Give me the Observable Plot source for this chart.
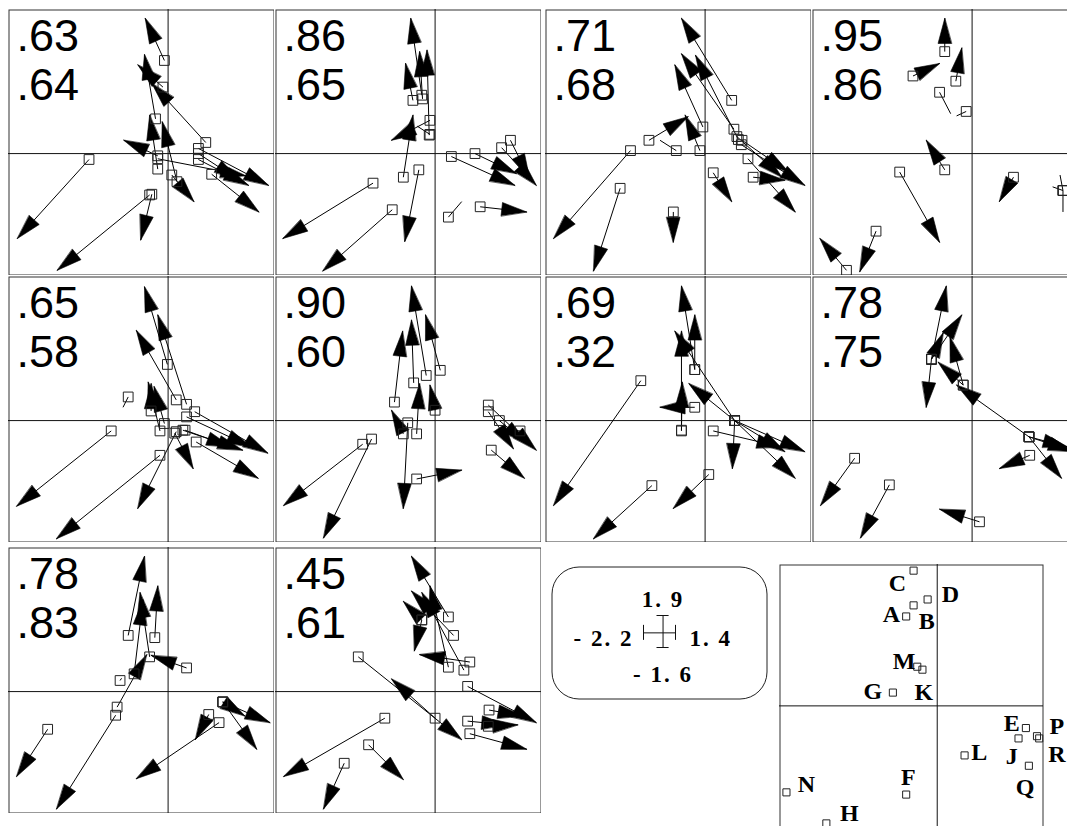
<!DOCTYPE html>
<html><head><meta charset="utf-8">
<script src="https://cdn.jsdelivr.net/npm/d3@7"></script>
<script src="https://cdn.jsdelivr.net/npm/@observablehq/plot@0.6"></script>
<style>
html,body{margin:0;padding:0;background:#fff;}
#wrap{position:relative;width:1067px;height:826px;overflow:hidden;background:#fff;}
.pn{position:absolute;}
.pn svg{display:block;max-width:none;}
</style></head><body><div id="wrap"></div>
<script>
// ---- panel statistics (two per panel) ----
const stat1 = [".63", ".86", ".71", ".95", ".65", ".90", ".69", ".78", ".78", ".45"];
const stat2 = [".64", ".65", ".68", ".86", ".58", ".60", ".32", ".75", ".83", ".61"];

// ---- arrows: start (square) x0,y0 -> end x1,y1, per panel ----
const p1x0 = [-1.07,-0.25,-0.22,-0.05,-0.07,-0.17,0.51,-0.14,-0.14,0.05,0.12,0.41,0.41,0.59,-0.14,0.41];
const p1y0 = [-0.08,-0.56,-0.55,1.26,0.90,0.47,0.15,-0.03,-0.21,-0.29,-0.38,0.07,-0.08,-0.28,-0.07,0.00];
const p1x1 = [-2.04,-1.50,-0.37,-0.31,-0.41,-0.32,-0.22,-0.60,-0.25,0.35,-0.08,1.36,1.09,1.23,1.05,0.96];
const p1y1 = [-1.15,-1.58,-1.17,1.83,1.20,1.34,0.95,0.18,0.52,-0.65,0.43,-0.43,-0.43,-0.79,-0.30,-0.36];

const p2x0 = [-0.84,-0.58,-0.22,-0.43,-0.07,-0.07,-0.18,-0.30,-0.17,-0.08,0.22,0.54,0.90,1.02,0.18,0.61];
const p2y0 = [-0.40,-0.76,-0.22,-0.32,0.45,0.26,0.79,0.72,0.74,0.25,-0.04,0.00,0.08,0.18,-0.86,-0.72];
const p2x1 = [-2.06,-1.52,-0.41,-0.30,-0.59,-0.24,-0.33,-0.40,-0.21,-0.11,1.08,1.10,1.37,1.28,0.36,1.24];
const p2y1 = [-1.15,-1.59,-1.19,0.52,0.18,0.37,1.83,1.22,1.38,1.40,-0.43,-0.27,-0.43,-0.34,-0.65,-0.79];

const p3x0 = [-1.01,-1.15,-0.43,-0.76,-0.39,-0.07,-0.03,0.36,0.39,0.45,0.49,0.58,0.65,0.11,0.50,0.43];
const p3y0 = [0.04,-0.47,-0.79,0.18,0.04,0.04,0.36,0.72,0.33,0.19,0.12,-0.07,-0.32,-0.26,0.18,0.23];
const p3x1 = [-2.05,-1.51,-0.43,-0.23,-0.61,-0.27,-0.41,-0.32,-0.32,-0.13,1.35,1.22,1.08,0.36,1.13,1.04];
const p3y1 = [-1.15,-1.59,-1.20,0.50,0.18,0.52,1.20,1.83,1.35,1.33,-0.43,-0.79,-0.36,-0.65,-0.25,-0.32];

const p4x0 = [-0.37,-0.80,-0.22,-0.44,-0.08,-0.37,-0.98,-1.30,-1.70,0.56,1.23,1.23,1.23];
const p4y0 = [1.38,1.05,0.98,0.83,0.57,-0.22,-0.25,-1.05,-1.58,-0.32,-0.50,-0.50,-0.50];
const p4x1 = [-0.37,-0.44,-0.14,-0.29,-0.21,-0.62,-0.44,-1.52,-2.06,0.37,1.19,1.09,1.23];
const p4y1 = [1.83,1.22,1.43,0.54,0.51,0.18,-1.20,-1.60,-1.15,-0.65,-0.29,-0.45,-0.79];

const p5x0 = [-0.77,-0.11,0.11,-0.54,-0.01,0.11,0.25,-0.11,-0.05,0.36,0.25,0.20,0.38,0.09,0.23,-0.23];
const p5y0 = [-0.14,-0.47,-0.15,0.32,0.76,0.28,0.22,-0.14,-0.04,0.12,0.05,-0.13,-0.29,-0.17,-0.13,0.13];
const p5x1 = [-2.05,-1.51,-0.41,-0.61,-0.32,-0.43,-0.14,-0.27,-0.19,1.35,1.13,1.01,1.22,0.34,0.86,-0.23];
const p5y1 = [-1.16,-1.60,-1.19,0.18,1.81,1.22,1.43,0.52,0.46,-0.44,-0.36,-0.40,-0.78,-0.65,-0.36,0.50];

const p6x0 = [-0.98,-0.86,-0.37,-0.25,-0.55,-0.29,-0.12,0.07,-0.25,-0.43,0.00,0.72,0.72,0.87,1.15,0.76];
const p6y0 = [-0.32,-0.25,-0.03,-0.79,0.25,0.51,0.61,0.68,-0.18,-0.18,0.14,0.21,0.12,0.00,-0.14,-0.40];
const p6x1 = [-2.05,-1.51,-0.43,0.36,-0.44,-0.32,-0.32,-0.13,-0.21,-0.59,-0.07,1.37,1.06,1.24,0.97,1.21];
const p6y1 = [-1.15,-1.59,-1.19,-0.67,1.21,1.36,1.82,1.43,0.50,0.14,0.48,-0.40,-0.38,-0.31,-0.13,-0.78];

const p7x0 = [-0.87,-0.72,0.05,-0.14,-0.32,-0.32,-0.14,-0.14,0.40,0.40,0.40,0.40,0.40,0.40,0.11];
const p7y0 = [0.54,-0.88,-0.73,0.18,-0.14,-0.13,0.69,0.69,0.00,0.00,0.00,0.00,0.00,0.00,-0.14];
const p7x1 = [-2.05,-1.51,-0.43,-0.61,-0.32,-0.31,-0.32,-0.14,-0.41,-0.22,1.35,1.08,1.22,0.37,1.04];
const p7y1 = [-1.15,-1.60,-1.19,0.18,1.21,0.52,1.82,1.43,1.21,0.50,-0.42,-0.42,-0.78,-0.65,-0.36];

const p8x0 = [-1.59,-1.12,0.10,0.78,0.77,0.77,0.77,-0.55,-0.55,-0.55,-0.55,-0.12,0.77,-0.12];
const p8y0 = [-0.51,-0.87,-1.37,-0.47,-0.22,-0.22,-0.22,0.83,0.83,0.83,0.83,0.48,-0.22,0.48];
const p8x1 = [-2.05,-1.51,-0.44,0.37,1.30,1.21,1.37,-0.62,-0.35,-0.14,-0.39,-0.46,-0.21,-0.30];
const p8y1 = [-1.15,-1.59,-1.20,-0.65,-0.36,-0.78,-0.42,0.18,1.82,1.43,1.19,0.79,0.48,1.13];

const p9x0 = [-1.63,-0.71,-0.69,-0.54,-0.18,-0.25,-0.46,-0.65,0.25,0.74,0.74,0.74,0.69,0.55];
const p9y0 = [-0.51,-0.32,-0.21,0.76,0.73,0.47,0.24,0.15,0.32,-0.14,-0.14,-0.14,-0.42,-0.31];
const p9x1 = [-2.05,-1.51,-0.29,-0.32,-0.14,-0.38,-0.34,-0.63,-0.23,1.38,1.20,1.04,-0.43,0.37];
const p9y1 = [-1.15,-1.59,0.50,1.83,1.43,1.34,1.24,0.18,0.49,-0.42,-0.78,-0.33,-1.18,-0.65];

const p10x0 = [-0.68,-1.23,-0.90,-1.04,0.00,-0.18,-0.18,0.18,0.25,0.47,0.18,0.39,0.44,0.73,0.44,0.72,0.47];
const p10y0 = [-0.36,-0.97,-0.72,0.47,-0.36,0.97,0.97,1.01,0.76,0.40,0.33,0.29,0.07,-0.25,-0.40,-0.47,-0.57];
const p10x1 = [-2.05,-1.51,-0.43,0.36,-0.59,-0.43,-0.28,-0.32,-0.32,-0.21,-0.07,-0.18,1.37,1.19,0.97,1.12,1.24];
const p10y1 = [-1.15,-1.59,-1.19,-0.65,0.17,1.22,0.55,1.83,1.36,0.50,1.43,1.34,-0.42,-0.33,-0.45,-0.45,-0.78];

// ---- reference typology (bottom-right panel) ----
const refLabels = ["A","B","C","D","E","F","G","H","J","K","L","M","N","P","Q","R"];
const refX  = [-0.42,-0.32,-0.32,-0.13,1.20,-0.42,-0.60,-1.50,1.10,-0.20,0.37,-0.27,-2.04,1.35,1.24,1.38];
const refY  = [1.21,1.36,1.83,1.44,-0.30,-1.20,0.18,-1.59,-0.44,0.49,-0.67,0.53,-1.17,-0.41,-0.81,-0.44];
const refLX = [-0.62,-0.14,-0.54,0.18,1.01,-0.39,-0.87,-1.19,1.01,-0.18,0.57,-0.45,-1.77,1.62,1.19,1.62];
const refLY = [1.24,1.14,1.66,1.51,-0.24,-0.97,0.20,-1.45,-0.68,0.18,-0.63,0.60,-1.06,-0.27,-1.10,-0.66];

// ---- scale legend ----
const xlim = [-2.2, 1.4];
const ylim = [-1.6, 1.9];
const limLabels = ["1. 9", "- 2. 2", "1. 4", "- 1. 6"]; // top, left, right, bottom

// ---------------------------------------------------------------
const panels = [
  [p1x0,p1y0,p1x1,p1y1],[p2x0,p2y0,p2x1,p2y1],[p3x0,p3y0,p3x1,p3y1],[p4x0,p4y0,p4x1,p4y1],
  [p5x0,p5y0,p5x1,p5y1],[p6x0,p6y0,p6x1,p6y1],[p7x0,p7y0,p7x1,p7y1],[p8x0,p8y0,p8x1,p8y1],
  [p9x0,p9y0,p9x1,p9y1],[p10x0,p10y0,p10x1,p10y1]
];
const panelLeft = [8,275,545,812,8,275,545,812,8,275];
const panelTop  = [9,9,9,9,276,276,276,276,547,547];
const SIZE = 266;
const XD = [-2.16, 1.44], YD = [-1.65, 1.95];
const K = SIZE / (XD[1] - XD[0]); // px per unit (equal aspect)
const HEAD_PX = 26, MIN_PX = 25, HALF = 15 * Math.PI / 180;

const wrap = document.getElementById("wrap");
function place(svg, left, top, w, h) {
  const d = document.createElement("div");
  d.className = "pn";
  d.style.left = left + "px"; d.style.top = top + "px";
  d.style.width = w + "px"; d.style.height = h + "px";
  d.appendChild(svg);
  wrap.appendChild(d);
}

function rowsOf([x0, y0, x1, y1]) {
  return x0.map((_, i) => ({id: i, x0: x0[i], y0: y0[i], x1: x1[i], y1: y1[i]}));
}
function headPoints(rows) {
  const out = [];
  const L = HEAD_PX / K, c = Math.cos(HALF) * L, s = Math.sin(HALF) * L;
  for (const r of rows) {
    const dx = r.x1 - r.x0, dy = r.y1 - r.y0, d = Math.hypot(dx, dy);
    if (d * K < MIN_PX) continue;
    const ux = dx / d, uy = dy / d, nx = -uy, ny = ux;
    out.push({id: r.id, x: r.x1, y: r.y1});
    out.push({id: r.id, x: r.x1 - c * ux + s * nx, y: r.y1 - c * uy + s * ny});
    out.push({id: r.id, x: r.x1 - c * ux - s * nx, y: r.y1 - c * uy - s * ny});
  }
  return out;
}

panels.forEach((arr, i) => {
  const rows = rowsOf(arr);
  const svg = Plot.plot({
    width: SIZE, height: SIZE, margin: 0,
    x: {domain: XD, axis: null},
    y: {domain: YD, axis: null},
    style: {background: "transparent"},
    marks: [
      Plot.frame({stroke: "#333", inset: 0.5}),
      Plot.ruleX([0], {stroke: "#111", strokeWidth: 1}),
      Plot.ruleY([0], {stroke: "#111", strokeWidth: 1}),
      Plot.link(rows, {x1: "x0", y1: "y0", x2: "x1", y2: "y1", stroke: "#000", strokeWidth: 1}),
      Plot.line(headPoints(rows), {x: "x", y: "y", z: "id", fill: "#000", stroke: "#000", strokeWidth: 0.6, curve: "linear-closed"}),
      Plot.dot(rows, {x: "x0", y: "y0", symbol: "square", r: 5.5, stroke: "#222", fill: "none", strokeWidth: 1}),
      Plot.text([stat1[i] + "\n" + stat2[i]], {
        frameAnchor: "top-left", dx: 8, dy: 7, lineAnchor: "top", textAnchor: "start",
        fontSize: 45, lineHeight: 1.09, fontFamily: "'Liberation Sans', Arial, sans-serif", fill: "#000"
      })
    ]
  });
  place(svg, panelLeft[i], panelTop[i], SIZE, SIZE);
});

// scale legend box
{
  const font = {fontSize: 23, fontWeight: "bold", fontFamily: "'Liberation Serif', serif", fill: "#000"};
  const svg = Plot.plot({
    width: 216, height: 133, margin: 0,
    x: {domain: xlim, range: [92, 124], axis: null},
    y: {domain: ylim, range: [81, 49], axis: null},
    style: {background: "transparent", overflow: "visible"},
    marks: [
      Plot.frame({stroke: "#222", inset: 0.5, rx: 27, ry: 27}),
      Plot.ruleY([0], {x1: xlim[0], x2: xlim[1], stroke: "#111"}),
      Plot.ruleX([0], {y1: ylim[0], y2: ylim[1], stroke: "#111"}),
      Plot.ruleX(xlim, {y1: -0.82, y2: 0.82, stroke: "#111"}),
      Plot.ruleY(ylim, {x1: -0.68, x2: 0.68, stroke: "#111"}),
      Plot.text([limLabels[0]], {x: 0, y: ylim[1], dy: -16, ...font}),
      Plot.text([limLabels[1]], {x: xlim[0], y: 0, dx: -10, dy: 6, textAnchor: "end", ...font}),
      Plot.text([limLabels[2]], {x: xlim[1], y: 0, dx: 14, dy: 6, textAnchor: "start", ...font}),
      Plot.text([limLabels[3]], {x: 0, y: ylim[0], dy: 27, ...font})
    ]
  });
  svg.querySelectorAll("text").forEach(t => t.style.letterSpacing = "2px");
  place(svg, 551, 566, 216, 133);
}

// reference typology panel
{
  const pts = refLabels.map((l, i) => ({label: l, x: refX[i], y: refY[i], lx: refLX[i], ly: refLY[i]}));
  const svg = Plot.plot({
    width: 264, height: 264, margin: 0,
    x: {domain: [-2.134, 1.438], axis: null},
    y: {domain: [-1.659, 1.913], axis: null},
    style: {background: "transparent", overflow: "visible"},
    marks: [
      Plot.frame({stroke: "#333", inset: 0.5}),
      Plot.ruleX([0], {stroke: "#111"}),
      Plot.ruleY([0], {stroke: "#111"}),
      Plot.dot(pts, {x: "x", y: "y", symbol: "square", r: 4, stroke: "#222", fill: "none", strokeWidth: 1}),
      Plot.text(pts, {x: "lx", y: "ly", text: "label", fontSize: 24, fontWeight: "bold", fontFamily: "'Liberation Serif', serif", fill: "#000"})
    ]
  });
  place(svg, 779, 564, 264, 264);
}
</script>
</body></html>
